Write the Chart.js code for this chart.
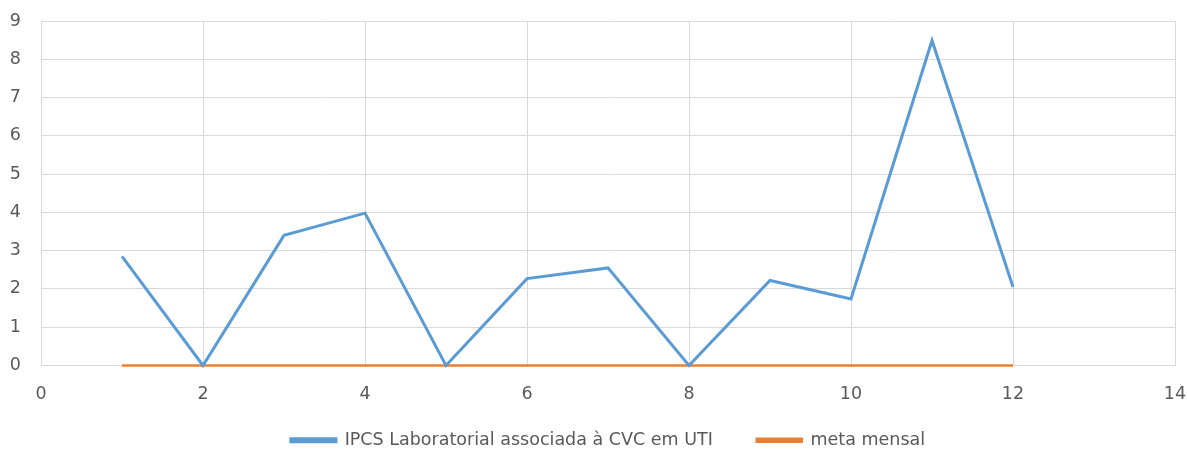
<!DOCTYPE html>
<html><head><meta charset="utf-8">
<script src="https://cdn.jsdelivr.net/npm/chart.js@4"></script>
<style>html,body{margin:0;padding:0;background:#fff}#wrap{width:1187px;height:450px}</style>
</head><body><div id="wrap"><canvas id="c" width="1187" height="450"></canvas></div>
<script>
const months = [1,2,3,4,5,6,7,8,9,10,11,12];
const ipcs = [2.85,0,3.40,3.98,0,2.27,2.55,0,2.22,1.74,8.49,2.05];
const meta = [0,0,0,0,0,0,0,0,0,0,0,0];
const seriesNames = ['IPCS Laboratorial associada à CVC em UTI','meta mensal'];
const xTicks = [0,2,4,6,8,10,12,14];
const yTicks = [0,1,2,3,4,5,6,7,8,9];

const toPts = (vals) => months.map((m,i)=>({x:m,y:vals[i]}));
const font = {family:"'DejaVu Sans', sans-serif", size:17.5};
const noClipTicks = {id:'noClipTicks', afterLayout(chart){ chart.scales.x._computeLabelArea = () => undefined; }};
new Chart(document.getElementById('c'), {
  type:'line',
  data:{datasets:[
    {label:seriesNames[0], data:toPts(ipcs), borderColor:'#5B9BD5', backgroundColor:'#5B9BD5', borderWidth:3, pointRadius:0, tension:0, clip:6},
    {label:seriesNames[1], data:toPts(meta), borderColor:'#ED7D31', backgroundColor:'#ED7D31', borderWidth:2.5, pointRadius:0, tension:0, clip:6}
  ]},
  options:{
    responsive:false, animation:false,
    layout:{padding:{left:4, right:12, top:21, bottom:-9}},
    scales:{
      x:{type:'linear', min:0, max:14,
        afterBuildTicks:(s)=>{s.ticks=xTicks.map(v=>({value:v}));},
        afterFit:(s)=>{s.height=22; s.paddingLeft=0; s.paddingRight=0; s.paddingTop=0; s.paddingBottom=0;},
        grid:{color:'#d9d9d9', lineWidth:1, drawTicks:false},
        border:{color:'#d9d9d9'},
        ticks:{color:'#595959', font:font, padding:18, maxRotation:0}},
      y:{type:'linear', min:0, max:9,
        afterBuildTicks:(s)=>{s.ticks=yTicks.map(v=>({value:v}));},
        afterFit:(s)=>{s.width=37; s.paddingTop=0; s.paddingBottom=0; s.paddingLeft=0; s.paddingRight=0;},
        grid:{color:'#d9d9d9', lineWidth:1, drawTicks:false},
        border:{color:'#d9d9d9'},
        ticks:{color:'#595959', font:font, padding:20}}
    },
    plugins:{
      legend:{position:'bottom', fullSize:false, labels:{color:'#595959', font:font, boxWidth:45, boxHeight:3, padding:44}},
      tooltip:{enabled:false}
    }
  },
  plugins:[noClipTicks]
});
</script></body></html>
